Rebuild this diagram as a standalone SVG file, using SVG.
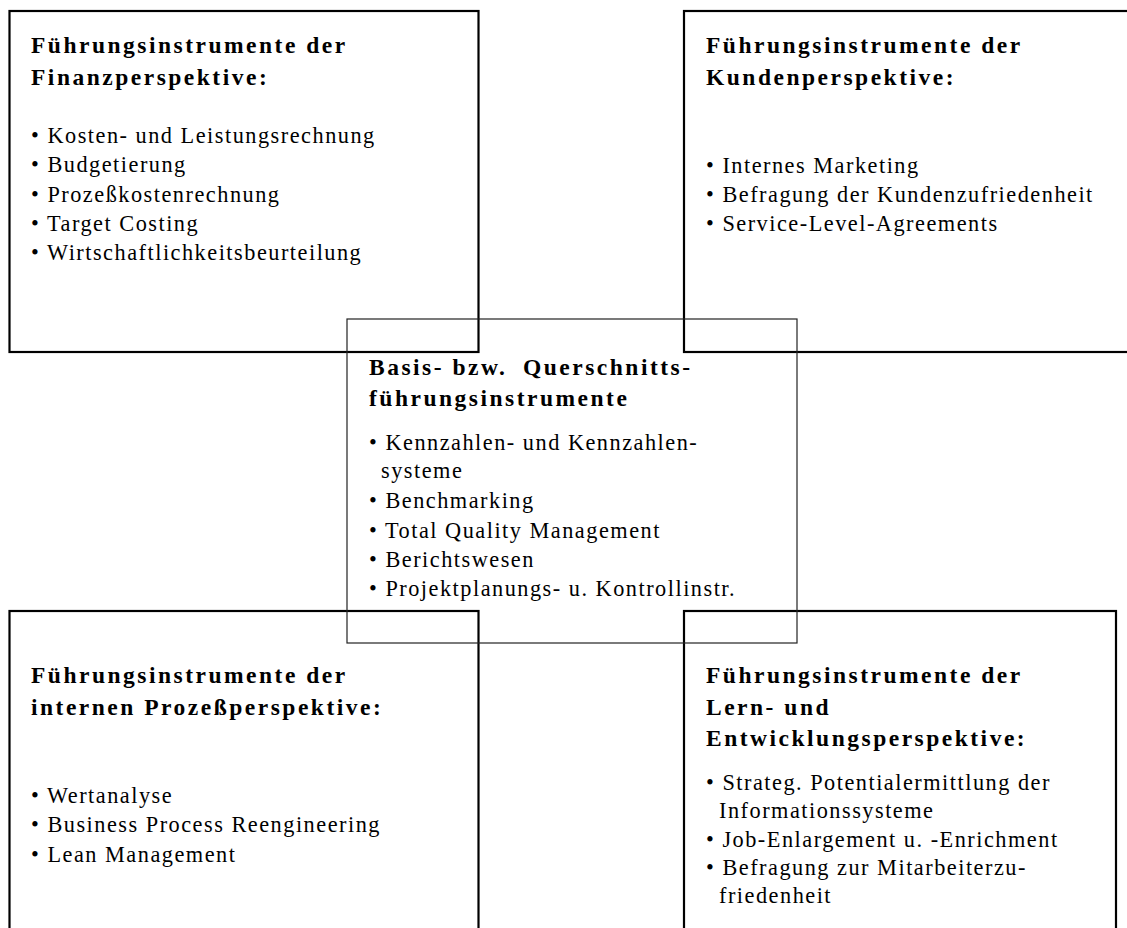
<svg xmlns="http://www.w3.org/2000/svg" width="1127" height="928" viewBox="0 0 1127 928">
<style>
.bg{fill:#fff}
.box{fill:none;stroke:#000;stroke-width:2.2}
.cbox{fill:none;stroke:#222;stroke-width:1.2}
.h{font-family:"Liberation Serif","Times New Roman",serif;font-weight:bold;font-size:23.5px;letter-spacing:2.5px;fill:#000}
.t{font-family:"Liberation Serif","Times New Roman",serif;font-size:22.3px;letter-spacing:1.5px;fill:#000}
</style>
<rect class="bg" x="0" y="0" width="1127" height="928"/>
<g id="connectors"></g>
<g id="finanz">
<rect class="box" x="9.5" y="11" width="469" height="341"/>
<text class="h" x="31" y="53">Führungsinstrumente der</text>
<text class="h" x="31" y="85">Finanzperspektive:</text>
<text class="t" x="31" y="143">• Kosten- und Leistungsrechnung</text>
<text class="t" x="31" y="172.3">• Budgetierung</text>
<text class="t" x="31" y="201.5">• Prozeßkostenrechnung</text>
<text class="t" x="31" y="230.7">• Target Costing</text>
<text class="t" x="31" y="260">• Wirtschaftlichkeitsbeurteilung</text>
</g>
<g id="kunden">
<rect class="box" x="684" y="11" width="460" height="341"/>
<text class="h" x="706" y="53">Führungsinstrumente der</text>
<text class="h" x="706" y="85">Kundenperspektive:</text>
<text class="t" x="706" y="173">• Internes Marketing</text>
<text class="t" x="706" y="202">• Befragung der Kundenzufriedenheit</text>
<text class="t" x="706" y="231">• Service-Level-Agreements</text>
</g>
<g id="prozess">
<rect class="box" x="9.5" y="611" width="469" height="340"/>
<text class="h" x="31" y="683">Führungsinstrumente der</text>
<text class="h" x="31" y="715">internen Prozeßperspektive:</text>
<text class="t" x="31" y="803">• Wertanalyse</text>
<text class="t" x="31" y="832">• Business Process Reengineering</text>
<text class="t" x="31" y="861.5">• Lean Management</text>
</g>
<g id="lernen">
<rect class="box" x="684" y="611" width="432" height="340"/>
<text class="h" x="706" y="683">Führungsinstrumente der</text>
<text class="h" x="706" y="715">Lern- und</text>
<text class="h" x="706" y="746">Entwicklungsperspektive:</text>
<text class="t" x="706" y="790">• Strateg. Potentialermittlung der</text>
<text class="t" x="719" y="818.3">Informationssysteme</text>
<text class="t" x="706" y="846.7">• Job-Enlargement u. -Enrichment</text>
<text class="t" x="706" y="875">• Befragung zur Mitarbeiterzu-</text>
<text class="t" x="719" y="903.3">friedenheit</text>
</g>
<g id="basis">
<rect class="cbox" x="347" y="319" width="450" height="324"/>
<text class="h" x="369" y="375">Basis- bzw.<tspan x="523">Querschnitts-</tspan></text>
<text class="h" x="369" y="405.5">führungsinstrumente</text>
<text class="t" x="369" y="450">• Kennzahlen- und Kennzahlen-</text>
<text class="t" x="381" y="478.3">systeme</text>
<text class="t" x="369" y="508.3">• Benchmarking</text>
<text class="t" x="369" y="537.7">• Total Quality Management</text>
<text class="t" x="369" y="566.7">• Berichtswesen</text>
<text class="t" x="369" y="596">• Projektplanungs- u. Kontrollinstr.</text>
</g>
</svg>
